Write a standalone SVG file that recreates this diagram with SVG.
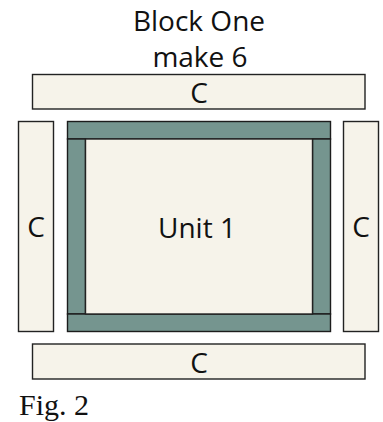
<svg xmlns="http://www.w3.org/2000/svg" width="383" height="422" viewBox="0 0 383 422">
<style>
.c{fill:#f6f3ea;stroke:#222;stroke-width:1.4}
.g{fill:#75958f;stroke:#1c1c1c;stroke-width:1.4}
.t{font-family:"Open Sans","Noto Sans",sans-serif;font-size:28px;fill:#111;text-anchor:middle}
.f{font-family:"Liberation Serif",serif;font-size:30px;fill:#111}
</style>
<rect width="383" height="422" fill="#fff"/>
<g id="title">
<text class="t" x="199" y="31">Block One</text>
<text class="t" x="200" y="67">make 6</text>
</g>
<g id="c-top">
<rect class="c" x="32.5" y="74.5" width="332.5" height="34.5"/>
<text class="t" x="199" y="102.5">C</text>
</g>
<g id="c-left">
<rect class="c" x="18.5" y="121.5" width="35" height="210"/>
<text class="t" x="36" y="237">C</text>
</g>
<g id="c-right">
<rect class="c" x="343.5" y="121.5" width="35" height="210"/>
<text class="t" x="361" y="237">C</text>
</g>
<g id="unit1">
<rect class="g" x="67.5" y="121.5" width="263" height="17.5"/>
<rect class="g" x="67.5" y="139" width="18" height="175"/>
<rect class="g" x="312.5" y="139" width="18" height="175"/>
<rect class="g" x="67.5" y="314" width="263" height="17.5"/>
<rect class="c" x="85.5" y="139" width="227" height="175"/>
<text class="t" x="197" y="238">Unit 1</text>
</g>
<g id="c-bottom">
<rect class="c" x="32.5" y="344" width="332.5" height="35"/>
<text class="t" x="199" y="372.5">C</text>
</g>
<g id="caption">
<text class="f" x="19" y="415">Fig. 2</text>
</g>
</svg>
